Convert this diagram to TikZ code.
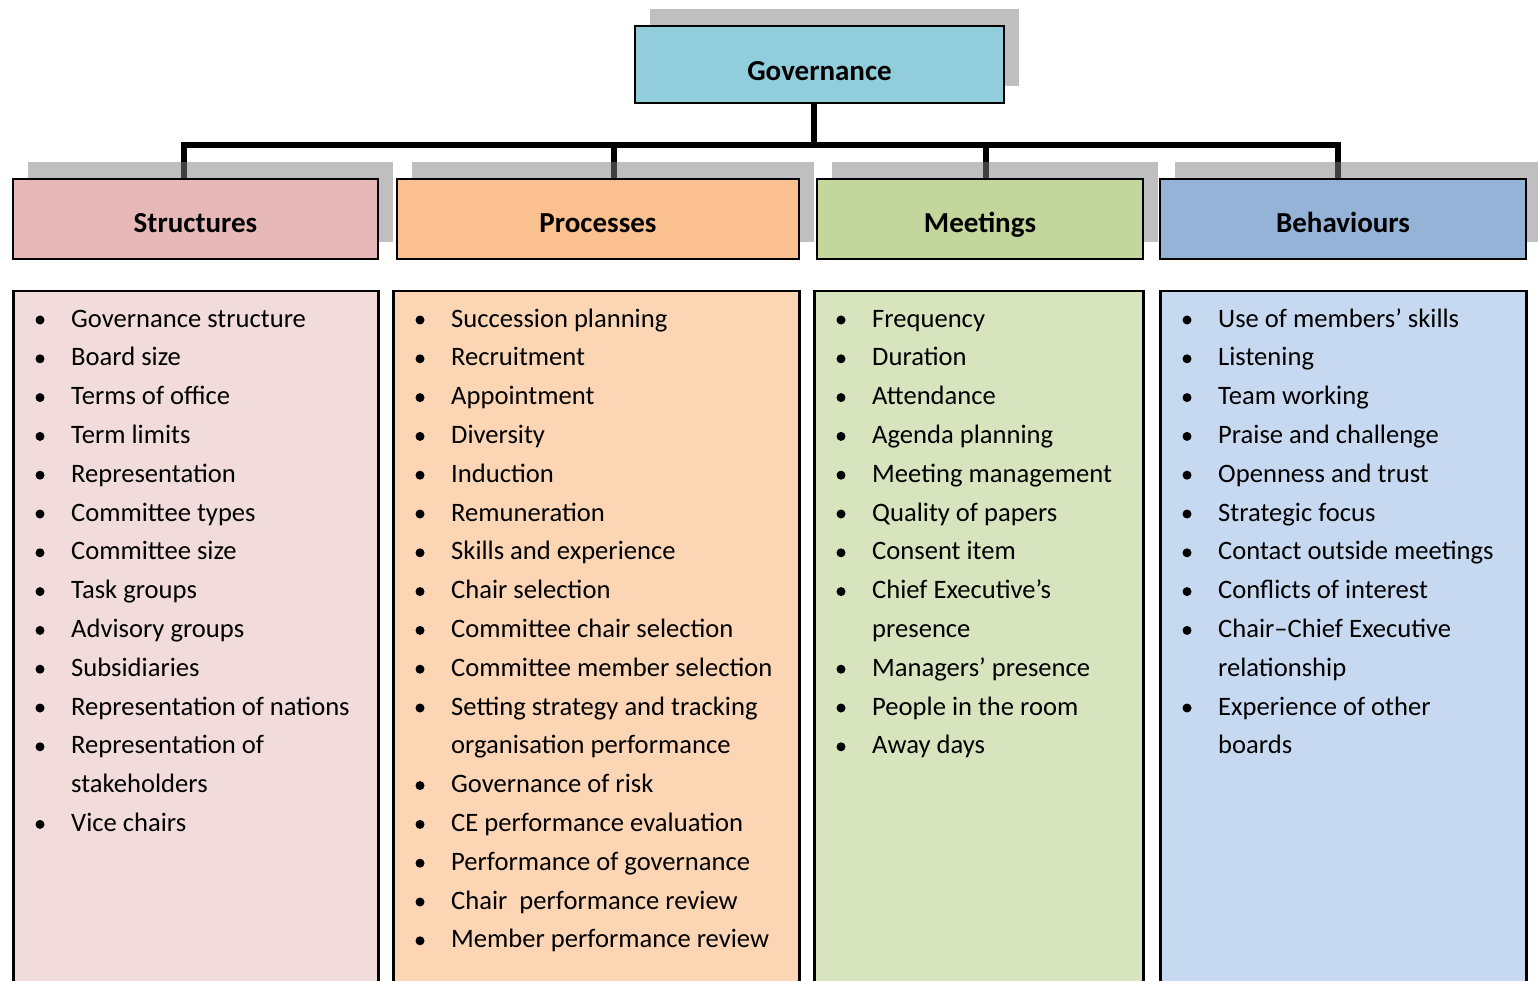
\documentclass[tikz,border=0pt]{standalone}
\usepackage{fontspec}
\setmainfont{Carlito}
\usetikzlibrary{shadows}
\usetikzlibrary{backgrounds}

\definecolor{govblue}{HTML}{92CDDC}
\definecolor{strhead}{HTML}{E6B8B7}
\definecolor{strbody}{HTML}{F2DCDB}
\definecolor{prohead}{HTML}{FAC090}
\definecolor{probody}{HTML}{FCD5B5}
\definecolor{meethead}{HTML}{C3D69B}
\definecolor{meetbody}{HTML}{D7E4BD}
\definecolor{behhead}{HTML}{95B3D7}
\definecolor{behbody}{HTML}{C6D9F1}

\tikzset{
	headbox/.style={draw=black, line width=2pt, anchor=north west, inner sep=0,
		drop shadow={shadow xshift=15pt, shadow yshift=17pt, fill=black!50, opacity=.5}},
	listbox/.style={draw=black, line width=2.5pt, anchor=north west, inner sep=0, minimum height=760pt},
	headtext/.style={anchor=base, inner sep=0, font=\fontsize{29}{35}\selectfont\bfseries},
	itemtext/.style={anchor=base west, inner sep=0, font=\fontsize{26.6}{37}\selectfont},
	dot/.style={circle, fill=black, inner sep=0, minimum size=9pt},
	conn/.style={line width=6pt, black}
}

% one column of points: 1 = new point with a bullet, 0 = wrapped line
\newcommand\pointlist[3]{%
	\foreach \bul/\txt [count=\i] in {#3} {
		\pgfmathsetmacro\yy{327+38.8*(\i-1)}
		\node[itemtext] (#2\i) at (#1+59,\yy) {\txt};
		\ifnum\bul=1 \node[dot] (#2dot\i) at (#1+28,\yy-7) {};\fi
	}%
}

\begin{document}
\begin{tikzpicture}[x=1pt, y=-1pt]
\useasboundingbox (0,0) rectangle (1538,981);
\clip (0,0) rectangle (1538,981);

% top box and the four headings
\node[headbox, fill=govblue, minimum width=369pt, minimum height=77pt] (gov) at (634,25) {};
\node[headtext] (govtext) at ([yshift=-16.5pt]gov.center) {Governance};

\node[headbox, fill=strhead, minimum width=365pt, minimum height=80pt] (structures) at (12,178) {};
\node[headbox, fill=prohead, minimum width=402pt, minimum height=80pt] (processes) at (396,178) {};
\node[headbox, fill=meethead, minimum width=326pt, minimum height=80pt] (meetings) at (816,178) {};
\node[headbox, fill=behhead, minimum width=366pt, minimum height=80pt] (behaviours) at (1159,178) {};
\node[headtext] (structurestext) at ([yshift=-14pt]structures.center) {Structures};
\node[headtext] (processestext) at ([yshift=-14pt]processes.center) {Processes};
\node[headtext] (meetingstext) at ([yshift=-14pt]meetings.center) {Meetings};
\node[headtext] (behaviourstext) at ([yshift=-14pt]behaviours.center) {Behaviours};

% connectors, kept under the shadows
\coordinate (jg) at (814,145);
\coordinate (j1) at (184,145);
\coordinate (j2) at (614,145);
\coordinate (j3) at (986,145);
\coordinate (j4) at (1338,145);
\begin{scope}[on background layer]
	\draw[conn] (gov.south -| jg) -- (jg);
	\draw[conn] (j1 |- structures.north) -- (j1) -- (j4) -- (j4 |- behaviours.north);
	\draw[conn] (j2) -- (j2 |- processes.north);
	\draw[conn] (j3) -- (j3 |- meetings.north);
\end{scope}

% lists
\node[listbox, fill=strbody, minimum width=365pt] (slist) at (12,290) {};
\node[listbox, fill=probody, minimum width=406pt] (plist) at (392,290) {};
\node[listbox, fill=meetbody, minimum width=329pt] (mlist) at (813,290) {};
\node[listbox, fill=behbody, minimum width=366pt] (blist) at (1159,290) {};

\pointlist{12}{s}{1/Governance structure, 1/Board size, 1/Terms of office, 1/Term limits,
	1/Representation, 1/Committee types, 1/Committee size, 1/Task groups, 1/Advisory groups,
	1/Subsidiaries, 1/Representation of nations, 1/Representation of, 0/stakeholders, 1/Vice chairs}

\pointlist{392}{p}{1/Succession planning, 1/Recruitment, 1/Appointment, 1/Diversity, 1/Induction,
	1/Remuneration, 1/Skills and experience, 1/Chair selection, 1/Committee chair selection,
	1/Committee member selection, 1/Setting strategy and tracking, 0/organisation performance,
	1/Governance of risk, 1/CE performance evaluation, 1/Performance of governance,
	1/Chair\ \ performance review, 1/Member performance review}

\pointlist{813}{m}{1/Frequency, 1/Duration, 1/Attendance, 1/Agenda planning, 1/Meeting management,
	1/Quality of papers, 1/Consent item, 1/Chief Executive’s, 0/presence, 1/Managers’ presence,
	1/People in the room, 1/Away days}

\pointlist{1159}{b}{1/Use of members’ skills, 1/Listening, 1/Team working, 1/Praise and challenge,
	1/Openness and trust, 1/Strategic focus, 1/Contact outside meetings, 1/Conflicts of interest,
	1/Chair–Chief Executive, 0/relationship, 1/Experience of other, 0/boards}
\end{tikzpicture}
\end{document}
